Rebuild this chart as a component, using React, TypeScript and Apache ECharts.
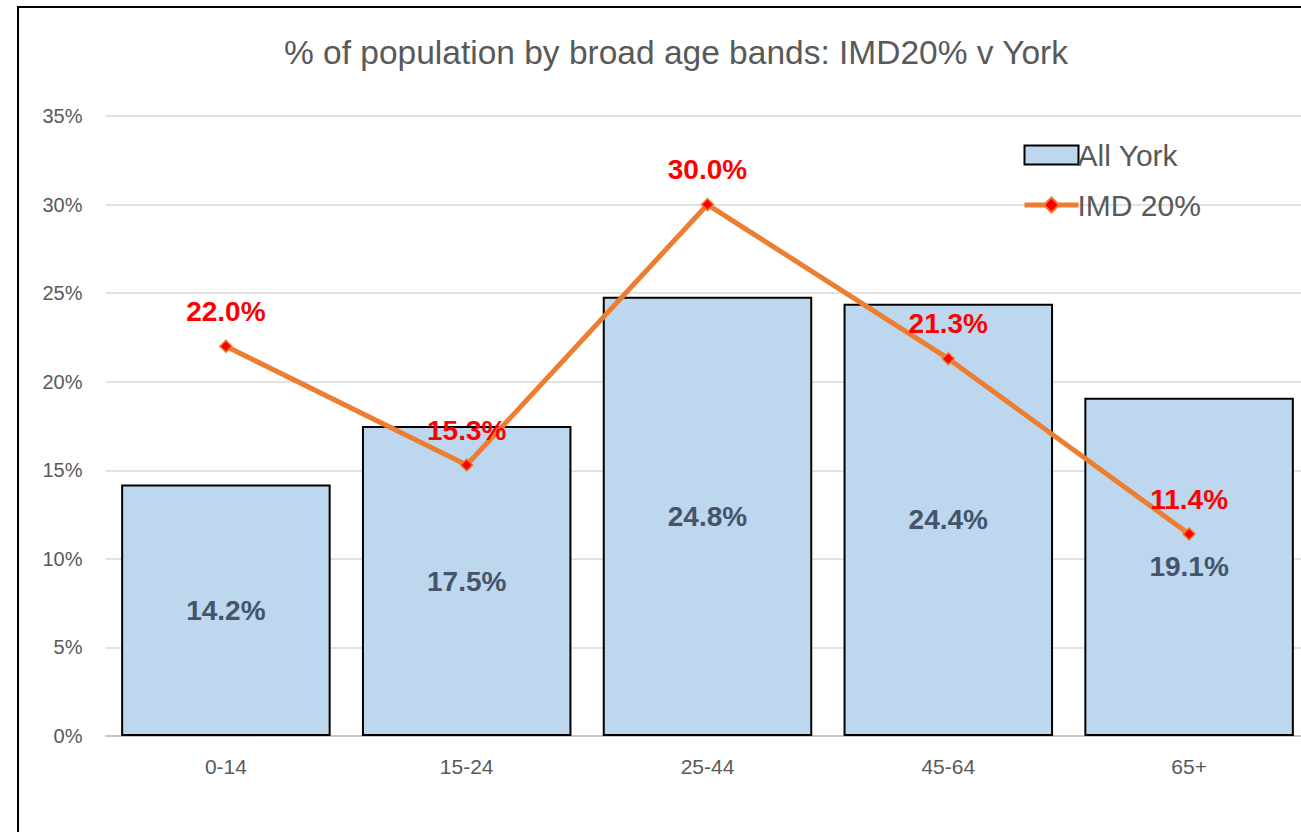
import React, { useEffect, useRef } from "react";
import * as echarts from "echarts";

const categories = ["0-14", "15-24", "25-44", "45-64", "65+"];
const allYork = [14.2, 17.5, 24.8, 24.4, 19.1];
const imd20 = [22.0, 15.3, 30.0, 21.3, 11.4];
const yTicks = [0, 5, 10, 15, 20, 25, 30, 35];

const FONT = "'Liberation Sans', Arial, sans-serif";

export default function App() {
  const ref = useRef<HTMLDivElement>(null);
  useEffect(() => {
    if (!ref.current) return;
    const chart = echarts.init(ref.current, null, { renderer: "svg" });
    chart.setOption({
      animation: false,
      backgroundColor: "#ffffff",
      textStyle: { fontFamily: FONT },
      title: {
        text: "% of population by broad age bands: IMD20% v York",
        left: 671,
        textAlign: "center",
        top: 30,
        textStyle: { fontFamily: FONT, fontSize: 33.5, fontWeight: "normal", color: "#595959" },
      },
      graphic: [
        {
          type: "line",
          shape: { x1: 18, y1: 7, x2: 18, y2: 832 },
          style: { stroke: "#000000", lineWidth: 2 },
          silent: true,
          z: 100,
        },
        {
          type: "line",
          shape: { x1: 17, y1: 7, x2: 1301, y2: 7 },
          style: { stroke: "#000000", lineWidth: 2 },
          silent: true,
          z: 100,
        },
      ],
      legend: {
        orient: "vertical",
        left: 1017,
        top: 135,
        itemWidth: 54,
        itemHeight: 19,
        itemGap: 20,
        textStyle: { fontFamily: FONT, fontSize: 30, color: "#595959", padding: [0, 0, 0, -6] },
        data: [
          { name: "All York", icon: "rect", itemStyle: { borderColor: "#000000", borderWidth: 2 } },
          { name: "IMD 20%", lineStyle: { width: 5, color: "#ED7D31" } },
        ],
      },
      grid: { left: 105.5, top: 116, width: 1204, height: 620, outerBoundsMode: "none", containLabel: false },
      xAxis: {
        type: "category",
        data: categories,
        axisLine: { show: true, lineStyle: { color: "#BFBFBF", width: 1.5 } },
        axisTick: { show: false },
        axisLabel: { fontFamily: FONT, fontSize: 21, color: "#595959", margin: 20 },
      },
      yAxis: {
        type: "value",
        min: 0,
        max: 35,
        interval: 5,
        axisLine: { show: false },
        axisTick: { show: false },
        splitLine: { lineStyle: { color: "#D9D9D9", width: 1.5 } },
        axisLabel: {
          fontFamily: FONT,
          fontSize: 20,
          color: "#595959",
          margin: 23,
          formatter: (v: number) => (yTicks.includes(v) ? `${v}%` : ""),
        },
      },
      series: [
        {
          name: "All York",
          type: "bar",
          data: allYork,
          barCategoryGap: "13%",
          itemStyle: { color: "#BDD7EE", borderColor: "#000000", borderWidth: 2 },
          label: {
            show: true,
            position: "inside",
            formatter: (p: any) => `${p.value.toFixed(1)}%`,
            fontFamily: FONT,
            fontSize: 28,
            fontWeight: "bold",
            color: "#44546A",
          },
          z: 1,
        },
        {
          name: "IMD 20%",
          type: "line",
          data: imd20,
          symbol: "diamond",
          symbolSize: 12,
          lineStyle: { color: "#ED7D31", width: 5 },
          itemStyle: { color: "#FF0000", borderColor: "#ED7D31", borderWidth: 1.5 },
          label: {
            show: true,
            position: "top",
            distance: 14,
            formatter: (p: any) => `${p.value.toFixed(1)}%`,
            fontFamily: FONT,
            fontSize: 28,
            fontWeight: "bold",
            color: "#FF0000",
          },
          z: 3,
        },
      ],
    });
    return () => chart.dispose();
  }, []);
  return (
    <div
      ref={ref}
      style={{ position: "fixed", left: 0, top: 0, width: 1301, height: 832, background: "#fff" }}
    />
  );
}
